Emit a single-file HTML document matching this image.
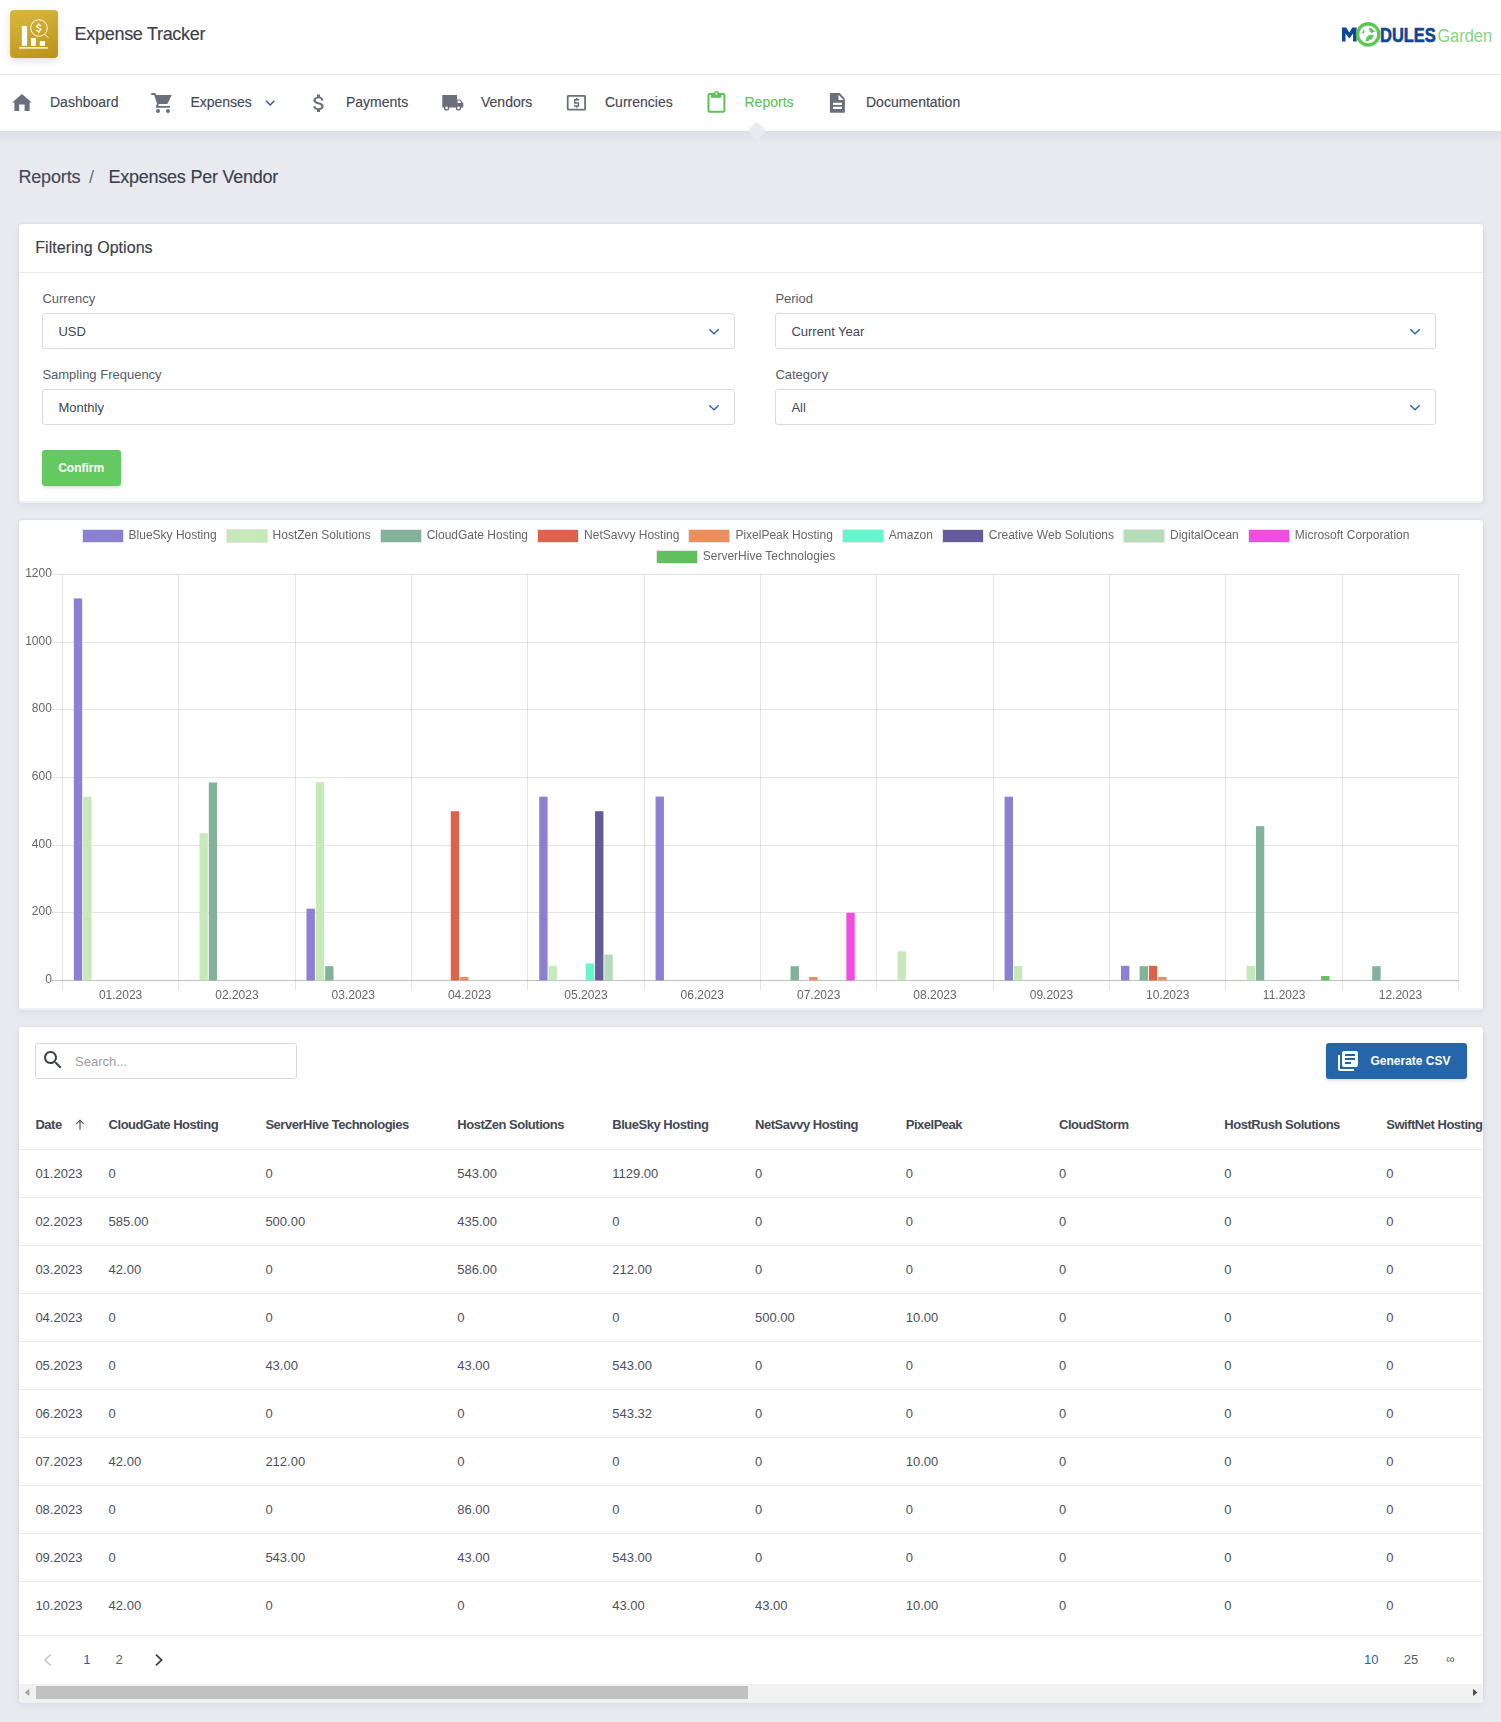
<!DOCTYPE html>
<html><head><meta charset="utf-8"><title>Expense Tracker - Reports</title>
<style>
*{box-sizing:border-box;margin:0;padding:0}
html,body{width:1501px;height:1722px;overflow:hidden}
body{background:#e9eaef;font-family:"Liberation Sans",sans-serif;color:#3d424d;position:relative}
.a{position:absolute;white-space:nowrap;line-height:20px}
.nv{-webkit-text-stroke:0.15px currentColor}
#hdr{position:absolute;left:0;top:0;width:1501px;height:75px;background:#fff;border-bottom:1px solid #e6e7ec}
#nav{position:absolute;left:0;top:75px;width:1501px;height:56px;background:#fff}
.card{position:absolute;left:19px;width:1464px;background:#fff;border-radius:3px;box-shadow:0 2px 0 #eef0f3,0 0 3px rgba(30,35,60,.07),0 4px 9px rgba(30,35,60,.07)}
.sel{position:absolute;height:36px;border:1px solid #d8dbe5;border-radius:3px;background:#fff}
</style></head><body>
<div id="hdr"><div style="position:absolute;left:10px;top:10px;width:48px;height:48px;border-radius:4px;background:linear-gradient(160deg,#d9b83f 0%,#c9a42a 55%,#b8921a 100%);box-shadow:0 3px 8px rgba(0,0,0,.12)">
<svg width="48" height="48" viewBox="10 10 48 48" style="position:absolute;left:0;top:0">
<rect x="21.8" y="26" width="5.3" height="19.8" fill="#fff"/>
<rect x="31" y="38" width="4.9" height="7.8" fill="#fff"/>
<rect x="39.8" y="41" width="5.2" height="4.8" fill="#fff"/>
<rect x="19.1" y="47" width="28.9" height="1.8" fill="#fff" fill-opacity=".75"/>
<circle cx="38.95" cy="28" r="8.3" fill="none" stroke="#fff" stroke-width="1" stroke-opacity=".92"/>
<line x1="44.8" y1="34.4" x2="48.6" y2="37.9" stroke="#fff" stroke-width="1" stroke-opacity=".9"/>
<path d="M41,25.7 L38.7,24.6 L36.3,26.3 L41.2,29.4 L38.9,31.5 L36.3,30.4 M38.7,23.2 V24.8 M38.8,31.3 V33.3" fill="none" stroke="#fff" stroke-width="1.15" stroke-linejoin="round"/>
</svg></div><div class="a nv" style="left:74.6px;top:24px;font-size:18px;color:#3b404b;letter-spacing:-0.3px">Expense Tracker</div>
<svg style="position:absolute;left:1336px;top:18px" width="160" height="34" viewBox="1336 18 160 34">
<path d="M1342,41.6 V27.4 H1346.2 L1349.3,32.4 L1352.4,27.4 H1356.6 V41.6 H1353.1 V33.4 L1349.3,38.4 L1345.5,33.4 V41.6 Z" fill="#0d4795"/>
<circle cx="1368.2" cy="34.4" r="10.6" fill="none" stroke="#5cc656" stroke-width="3.4"/>
<path d="M1362,33.8 l1.2,-3.6 1.1,-1 0.2,3.4 -1,0.6z M1369.2,27.5 l2.5,0.8 1.2,1.6 1.6,0.6 0.3,1.6 -1.8,0.2 -1.4,1 -0.8,-1.6 -1.4,-0.4z M1365.4,41.6 l0.4,-1.8 0.6,-1 -0.2,-1.4 1.2,-0.4 0.2,-1.3 1.6,-0.2 0.8,-1 1.2,0.8 1.4,-0.4 1.2,0.4 -1.4,3 -1.6,1.6 -1.4,-0.6 -0.8,1.8z" fill="#5cc656"/>
<text x="1380" y="41.6" font-family="Liberation Sans" font-weight="bold" font-size="20" fill="#0d4795" stroke="#0d4795" stroke-width="0.6" textLength="55.8" lengthAdjust="spacingAndGlyphs">DULES</text>
<text x="1437.4" y="41.6" font-family="Liberation Sans" font-size="19.2" fill="#86d581" textLength="54.6" lengthAdjust="spacingAndGlyphs" style="font-weight:normal">Garden</text>
</svg></div><div id="nav"></div><svg style="position:absolute;left:0;top:75px" width="1000" height="56" viewBox="0 75 1000 56">
<path d="M19.2,111 v-6.4 h5.4 v6.4 h5 v-8.4 h2.2 L21.9,94 L12.2,102.6 h2.2 v8.4z" fill="#6b6f7b"/>
<g fill="#6b6f7b">
<path d="M155.3,95 L171.8,95 L167.4,103.9 L158,103.9 Z"/>
<path d="M151.3,94 H154.8 L158,103.5 L156.8,106.9 H170" fill="none" stroke="#6b6f7b" stroke-width="1.9"/>
<circle cx="158" cy="111" r="2"/><circle cx="168" cy="111" r="2"/>
</g>
<path d="M266,100.8 l4.2,4.2 4.2,-4.2" fill="none" stroke="#3d5a80" stroke-width="1.5"/>
<path transform="translate(306.8,91.6) scale(1.02,0.975)" d="M11.8 10.9c-2.27-.59-3-1.2-3-2.15 0-1.09 1.01-1.85 2.7-1.85 1.78 0 2.440.85 2.5 2.1h2.21c-.07-1.72-1.12-3.3-3.21-3.81V3h-3v2.16c-1.94.42-3.5 1.68-3.5 3.610 0 2.31 1.91 3.46 4.7 4.13 2.5.6 3 1.48 3 2.41 0 .69-.49 1.79-2.7 1.79-2.06 0-2.87-.92-2.98-2.1h-2.2c.12 2.19 1.76 3.42 3.68 3.83V21h3v-2.15c1.95-.37 3.5-1.5 3.5-3.55 0-2.84-2.43-3.81-4.7-4.4z" fill="#6b6f7b"/>
<g fill="#6b6f7b">
<path d="M442.3,95 H457 V99.4 H460.3 L463.3,103.2 V107.6 H442.3 Z M457.6,100.6 V103.1 H461.6 L459.7,100.6 Z" fill-rule="evenodd"/>
<circle cx="446.6" cy="107.9" r="2.7"/><circle cx="458.5" cy="107.9" r="2.7"/>
</g>
<circle cx="446.6" cy="107.9" r="1.3" fill="#fff"/><circle cx="458.5" cy="107.9" r="1.3" fill="#fff"/>
<rect x="567.7" y="95.9" width="17.4" height="13.8" rx="0.6" fill="none" stroke="#6b6f7b" stroke-width="1.8"/>
<path d="M579.4,99.85 H574.7 V103 H578.4 V106 H573.9 M576.6,98.1 V99.85 M576.6,106 V107.8" fill="none" stroke="#6b6f7b" stroke-width="1.5"/>
<rect x="708.5" y="94" width="15.9" height="17.7" rx="1" fill="none" stroke="#5cc457" stroke-width="2"/>
<rect x="711" y="93" width="10.3" height="4.8" fill="#5cc457"/>
<circle cx="716.3" cy="93.5" r="2.6" fill="#5cc457"/><circle cx="716.3" cy="93.6" r="1.05" fill="#fff"/>
<path d="M830.9,93 H839.7 L844.9,98.7 V111.7 Q844.9,112.7 843.9,112.7 H830.9 Q829.9,112.7 829.9,111.7 V94 Q829.9,93 830.9,93 Z M838.5,94.8 V100 H843.7 Z M833,102.8 V104.9 H842 V102.8 Z M833,106.8 V109 H842 V106.8 Z" fill="#6b6f7b" fill-rule="evenodd"/>
</svg><div class="a nv" style="left:50px;top:92px;font-size:14px;color:#444955;">Dashboard</div>
<div class="a nv" style="left:190.4px;top:92px;font-size:14px;color:#444955;">Expenses</div>
<div class="a nv" style="left:346px;top:92px;font-size:14px;color:#444955;">Payments</div>
<div class="a nv" style="left:481px;top:92px;font-size:14px;color:#444955;">Vendors</div>
<div class="a nv" style="left:605px;top:92px;font-size:14px;color:#444955;">Currencies</div>
<div class="a nv" style="left:866px;top:92px;font-size:14px;color:#444955;">Documentation</div>
<div class="a nv" style="left:744.5px;top:92px;font-size:14px;color:#5cc457;">Reports</div>
<div style="position:absolute;left:0;top:131px;width:1501px;height:12px;background:linear-gradient(rgba(30,35,60,.055),rgba(30,35,60,0))"></div><div style="position:absolute;left:750px;top:125.3px;width:13.4px;height:13.4px;transform:rotate(45deg);border-top-left-radius:2px;background:#e9eaef;box-shadow:-1px -1px 2px rgba(0,0,0,.05)"></div><div class="a nv" style="left:18.4px;top:167px;font-size:18px;color:#434854;letter-spacing:-0.15px">Reports</div>
<div class="a" style="left:89px;top:167px;font-size:18px;color:#6b707c;">/</div>
<div class="a nv" style="left:108.5px;top:167px;font-size:18px;color:#3b404b;letter-spacing:-0.24px">Expenses Per Vendor</div>
<div class="card" style="top:224px;height:277px"></div><div style="position:absolute;left:19px;top:272px;width:1464px;height:1px;background:#e8e9ef"></div><div class="a nv" style="left:35.3px;top:238px;font-size:16px;color:#3b404b;letter-spacing:0.05px">Filtering Options</div>
<div class="a" style="left:42.4px;top:289px;font-size:13px;color:#575c68;">Currency</div>
<div class="a" style="left:775.4px;top:289px;font-size:13px;color:#575c68;">Period</div>
<div class="sel" style="left:42px;top:313px;width:693px"></div><div class="a" style="left:58.4px;top:322px;font-size:13px;color:#424753;">USD</div>
<svg style="position:absolute;left:708px;top:328px" width="12" height="8" viewBox="0 0 12 8"><path d="M1.3,1.3 L6,5.8 L10.7,1.3" fill="none" stroke="#2466b0" stroke-width="1.35"/></svg>
<div class="sel" style="left:775px;top:313px;width:661px"></div><div class="a" style="left:791.4px;top:322px;font-size:13px;color:#424753;">Current Year</div>
<svg style="position:absolute;left:1409px;top:328px" width="12" height="8" viewBox="0 0 12 8"><path d="M1.3,1.3 L6,5.8 L10.7,1.3" fill="none" stroke="#2466b0" stroke-width="1.35"/></svg>
<div class="a" style="left:42.4px;top:365px;font-size:13px;color:#575c68;">Sampling Frequency</div>
<div class="a" style="left:775.4px;top:365px;font-size:13px;color:#575c68;">Category</div>
<div class="sel" style="left:42px;top:389px;width:693px"></div><div class="a" style="left:58.4px;top:398px;font-size:13px;color:#424753;">Monthly</div>
<svg style="position:absolute;left:708px;top:404px" width="12" height="8" viewBox="0 0 12 8"><path d="M1.3,1.3 L6,5.8 L10.7,1.3" fill="none" stroke="#2466b0" stroke-width="1.35"/></svg>
<div class="sel" style="left:775px;top:389px;width:661px"></div><div class="a" style="left:791.4px;top:398px;font-size:13px;color:#424753;">All</div>
<svg style="position:absolute;left:1409px;top:404px" width="12" height="8" viewBox="0 0 12 8"><path d="M1.3,1.3 L6,5.8 L10.7,1.3" fill="none" stroke="#2466b0" stroke-width="1.35"/></svg>
<div style="position:absolute;left:42px;top:450px;width:79px;height:36px;border-radius:3px;background:#64c961;box-shadow:0 2px 3px rgba(0,0,0,.12)"></div><div class="a" style="left:58.2px;top:458px;font-size:12px;color:#fff;font-weight:bold;-webkit-text-stroke:0;">Confirm</div>
<div class="card" style="top:520px;height:488px"></div><svg style="position:absolute;left:0;top:519px;will-change:transform" width="1501" height="489" viewBox="0 519 1501 489">
<line x1="51.4" y1="980.5" x2="1458.6" y2="980.5" stroke="rgba(0,0,0,0.25)" stroke-width="1"/>
<text x="51.9" y="982.9" font-family="Liberation Sans" font-size="12" fill="#666" text-anchor="end">0</text>
<line x1="51.4" y1="912.5" x2="1458.6" y2="912.5" stroke="rgba(0,0,0,0.1)" stroke-width="1"/>
<text x="51.9" y="914.9" font-family="Liberation Sans" font-size="12" fill="#666" text-anchor="end">200</text>
<line x1="51.4" y1="845.5" x2="1458.6" y2="845.5" stroke="rgba(0,0,0,0.1)" stroke-width="1"/>
<text x="51.9" y="847.9" font-family="Liberation Sans" font-size="12" fill="#666" text-anchor="end">400</text>
<line x1="51.4" y1="777.5" x2="1458.6" y2="777.5" stroke="rgba(0,0,0,0.1)" stroke-width="1"/>
<text x="51.9" y="779.9" font-family="Liberation Sans" font-size="12" fill="#666" text-anchor="end">600</text>
<line x1="51.4" y1="709.5" x2="1458.6" y2="709.5" stroke="rgba(0,0,0,0.1)" stroke-width="1"/>
<text x="51.9" y="711.9" font-family="Liberation Sans" font-size="12" fill="#666" text-anchor="end">800</text>
<line x1="51.4" y1="642.5" x2="1458.6" y2="642.5" stroke="rgba(0,0,0,0.1)" stroke-width="1"/>
<text x="51.9" y="644.9" font-family="Liberation Sans" font-size="12" fill="#666" text-anchor="end">1000</text>
<line x1="51.4" y1="574.5" x2="1458.6" y2="574.5" stroke="rgba(0,0,0,0.1)" stroke-width="1"/>
<text x="51.9" y="576.9" font-family="Liberation Sans" font-size="12" fill="#666" text-anchor="end">1200</text>
<line x1="62.5" y1="574" x2="62.5" y2="990.4" stroke="rgba(0,0,0,0.1)" stroke-width="1"/>
<line x1="178.5" y1="574" x2="178.5" y2="990.4" stroke="rgba(0,0,0,0.1)" stroke-width="1"/>
<line x1="295.5" y1="574" x2="295.5" y2="990.4" stroke="rgba(0,0,0,0.1)" stroke-width="1"/>
<line x1="411.5" y1="574" x2="411.5" y2="990.4" stroke="rgba(0,0,0,0.1)" stroke-width="1"/>
<line x1="527.5" y1="574" x2="527.5" y2="990.4" stroke="rgba(0,0,0,0.1)" stroke-width="1"/>
<line x1="644.5" y1="574" x2="644.5" y2="990.4" stroke="rgba(0,0,0,0.1)" stroke-width="1"/>
<line x1="760.5" y1="574" x2="760.5" y2="990.4" stroke="rgba(0,0,0,0.1)" stroke-width="1"/>
<line x1="876.5" y1="574" x2="876.5" y2="990.4" stroke="rgba(0,0,0,0.1)" stroke-width="1"/>
<line x1="993.5" y1="574" x2="993.5" y2="990.4" stroke="rgba(0,0,0,0.1)" stroke-width="1"/>
<line x1="1109.5" y1="574" x2="1109.5" y2="990.4" stroke="rgba(0,0,0,0.1)" stroke-width="1"/>
<line x1="1225.5" y1="574" x2="1225.5" y2="990.4" stroke="rgba(0,0,0,0.1)" stroke-width="1"/>
<line x1="1342.5" y1="574" x2="1342.5" y2="990.4" stroke="rgba(0,0,0,0.1)" stroke-width="1"/>
<line x1="1458.5" y1="574" x2="1458.5" y2="990.4" stroke="rgba(0,0,0,0.1)" stroke-width="1"/>
<text x="120.6" y="998.8" font-family="Liberation Sans" font-size="12" fill="#666" text-anchor="middle">01.2023</text>
<text x="236.9" y="998.8" font-family="Liberation Sans" font-size="12" fill="#666" text-anchor="middle">02.2023</text>
<text x="353.3" y="998.8" font-family="Liberation Sans" font-size="12" fill="#666" text-anchor="middle">03.2023</text>
<text x="469.6" y="998.8" font-family="Liberation Sans" font-size="12" fill="#666" text-anchor="middle">04.2023</text>
<text x="586.0" y="998.8" font-family="Liberation Sans" font-size="12" fill="#666" text-anchor="middle">05.2023</text>
<text x="702.3" y="998.8" font-family="Liberation Sans" font-size="12" fill="#666" text-anchor="middle">06.2023</text>
<text x="818.7" y="998.8" font-family="Liberation Sans" font-size="12" fill="#666" text-anchor="middle">07.2023</text>
<text x="935.0" y="998.8" font-family="Liberation Sans" font-size="12" fill="#666" text-anchor="middle">08.2023</text>
<text x="1051.4" y="998.8" font-family="Liberation Sans" font-size="12" fill="#666" text-anchor="middle">09.2023</text>
<text x="1167.7" y="998.8" font-family="Liberation Sans" font-size="12" fill="#666" text-anchor="middle">10.2023</text>
<text x="1284.1" y="998.8" font-family="Liberation Sans" font-size="12" fill="#666" text-anchor="middle">11.2023</text>
<text x="1400.4" y="998.8" font-family="Liberation Sans" font-size="12" fill="#666" text-anchor="middle">12.2023</text>
<rect x="73.80" y="598.42" width="8.38" height="381.98" fill="#8b80d1"/>
<rect x="83.11" y="796.68" width="8.38" height="183.72" fill="#c7e9b9"/>
<rect x="199.46" y="833.23" width="8.38" height="147.17" fill="#c7e9b9"/>
<rect x="208.77" y="782.48" width="8.38" height="197.92" fill="#83b29b"/>
<rect x="306.50" y="908.67" width="8.38" height="71.73" fill="#8b80d1"/>
<rect x="315.81" y="782.14" width="8.38" height="198.26" fill="#c7e9b9"/>
<rect x="325.12" y="966.19" width="8.38" height="14.21" fill="#83b29b"/>
<rect x="450.77" y="811.23" width="8.38" height="169.17" fill="#de614c"/>
<rect x="460.08" y="977.02" width="8.38" height="3.38" fill="#ec8e5c"/>
<rect x="539.20" y="796.68" width="8.38" height="183.72" fill="#8b80d1"/>
<rect x="548.51" y="965.85" width="8.38" height="14.55" fill="#c7e9b9"/>
<rect x="585.74" y="963.48" width="8.38" height="16.92" fill="#66f5cd"/>
<rect x="595.05" y="811.23" width="8.38" height="169.17" fill="#655a9a"/>
<rect x="604.36" y="954.69" width="8.38" height="25.71" fill="#b5dbb8"/>
<rect x="655.55" y="796.58" width="8.38" height="183.82" fill="#8b80d1"/>
<rect x="790.52" y="966.19" width="8.38" height="14.21" fill="#83b29b"/>
<rect x="809.13" y="977.02" width="8.38" height="3.38" fill="#ec8e5c"/>
<rect x="846.36" y="912.73" width="8.38" height="67.67" fill="#ef4ce1"/>
<rect x="897.56" y="951.30" width="8.38" height="29.10" fill="#c7e9b9"/>
<rect x="1004.60" y="796.68" width="8.38" height="183.72" fill="#8b80d1"/>
<rect x="1013.91" y="965.85" width="8.38" height="14.55" fill="#c7e9b9"/>
<rect x="1120.95" y="965.85" width="8.38" height="14.55" fill="#8b80d1"/>
<rect x="1139.57" y="966.19" width="8.38" height="14.21" fill="#83b29b"/>
<rect x="1148.87" y="965.85" width="8.38" height="14.55" fill="#de614c"/>
<rect x="1158.18" y="977.02" width="8.38" height="3.38" fill="#ec8e5c"/>
<rect x="1246.61" y="965.85" width="8.38" height="14.55" fill="#c7e9b9"/>
<rect x="1255.92" y="826.12" width="8.38" height="154.28" fill="#83b29b"/>
<rect x="1321.07" y="976.00" width="8.38" height="4.40" fill="#5fc05c"/>
<rect x="1372.27" y="966.19" width="8.38" height="14.21" fill="#83b29b"/>
</svg><div style="position:absolute;left:19px;top:528px;width:1464px;height:16px;padding-right:10px;will-change:transform;display:flex;justify-content:center;font-size:12px;line-height:16px;color:#666"><div style="display:flex;align-items:center;margin:0 5px"><span style="display:inline-block;width:40px;height:12px;outline:1px solid rgba(0,0,0,0.1);background:#8b80d1;margin-right:6px"></span><span style="position:relative;top:-1px">BlueSky Hosting</span></div><div style="display:flex;align-items:center;margin:0 5px"><span style="display:inline-block;width:40px;height:12px;outline:1px solid rgba(0,0,0,0.1);background:#c7e9b9;margin-right:6px"></span><span style="position:relative;top:-1px">HostZen Solutions</span></div><div style="display:flex;align-items:center;margin:0 5px"><span style="display:inline-block;width:40px;height:12px;outline:1px solid rgba(0,0,0,0.1);background:#83b29b;margin-right:6px"></span><span style="position:relative;top:-1px">CloudGate Hosting</span></div><div style="display:flex;align-items:center;margin:0 5px"><span style="display:inline-block;width:40px;height:12px;outline:1px solid rgba(0,0,0,0.1);background:#de614c;margin-right:6px"></span><span style="position:relative;top:-1px">NetSavvy Hosting</span></div><div style="display:flex;align-items:center;margin:0 5px"><span style="display:inline-block;width:40px;height:12px;outline:1px solid rgba(0,0,0,0.1);background:#ec8e5c;margin-right:6px"></span><span style="position:relative;top:-1px">PixelPeak Hosting</span></div><div style="display:flex;align-items:center;margin:0 5px"><span style="display:inline-block;width:40px;height:12px;outline:1px solid rgba(0,0,0,0.1);background:#66f5cd;margin-right:6px"></span><span style="position:relative;top:-1px">Amazon</span></div><div style="display:flex;align-items:center;margin:0 5px"><span style="display:inline-block;width:40px;height:12px;outline:1px solid rgba(0,0,0,0.1);background:#655a9a;margin-right:6px"></span><span style="position:relative;top:-1px">Creative Web Solutions</span></div><div style="display:flex;align-items:center;margin:0 5px"><span style="display:inline-block;width:40px;height:12px;outline:1px solid rgba(0,0,0,0.1);background:#b5dbb8;margin-right:6px"></span><span style="position:relative;top:-1px">DigitalOcean</span></div><div style="display:flex;align-items:center;margin:0 5px"><span style="display:inline-block;width:40px;height:12px;outline:1px solid rgba(0,0,0,0.1);background:#ef4ce1;margin-right:6px"></span><span style="position:relative;top:-1px">Microsoft Corporation</span></div></div>
<div style="position:absolute;left:19px;top:549px;width:1464px;height:16px;padding-right:10px;will-change:transform;display:flex;justify-content:center;font-size:12px;line-height:16px;color:#666"><div style="display:flex;align-items:center;margin:0 5px"><span style="display:inline-block;width:40px;height:12px;outline:1px solid rgba(0,0,0,0.1);background:#5fc05c;margin-right:6px"></span><span style="position:relative;top:-1px">ServerHive Technologies</span></div></div>
<div class="card" style="top:1027px;height:674px;overflow:hidden"></div><div style="position:absolute;left:35px;top:1043px;width:262px;height:36px;border:1px solid #d5d8e3;border-radius:3px;background:#fff"></div><svg style="position:absolute;left:41px;top:1048px" width="24" height="24" viewBox="0 0 24 24"><path d="M15.5 14h-.79l-.28-.27C15.41 12.59 16 11.11 16 9.5 16 5.91 13.09 3 9.5 3S3 5.91 3 9.5 5.91 16 9.5 16c1.61 0 3.09-.59 4.23-1.57l.27.28v.79l5 4.99L20.49 19l-4.99-5zm-6 0C7.01 14 5 11.99 5 9.5S7.01 5 9.5 5 14 7.01 14 9.5 11.99 14 9.5 14z" fill="#3d424d"/></svg><div class="a" style="left:75px;top:1052px;font-size:13px;color:#9d9d9d;">Search...</div>
<div style="position:absolute;left:1326px;top:1043px;width:141px;height:36px;border-radius:3px;background:#2566ab;box-shadow:0 2px 3px rgba(0,0,0,.12)"></div><svg style="position:absolute;left:1336px;top:1049px" width="24" height="24" viewBox="0 0 24 24"><path d="M4 6H2v14c0 1.1.9 2 2 2h14v-2H4V6zm16-4H8c-1.1 0-2 .9-2 2v12c0 1.1.9 2 2 2h12c1.1 0 2-.9 2-2V4c0-1.1-.9-2-2-2zm-1 9H9V9h10v2zm-4 4H9v-2h6v2zm4-8H9V5h10v2z" fill="#fff"/></svg><div class="a" style="left:1370.5px;top:1051px;font-size:12px;color:#fff;font-weight:bold;-webkit-text-stroke:0;">Generate CSV</div>
<div style="position:absolute;left:19px;top:1080px;width:1464px;height:560px;overflow:hidden"><div class="a" style="left:16.4px;top:35px;font-size:13px;color:#434854;font-weight:bold;-webkit-text-stroke:0;letter-spacing:-0.48px">Date</div>
<div class="a" style="left:89.6px;top:35px;font-size:13px;color:#434854;font-weight:bold;-webkit-text-stroke:0;letter-spacing:-0.48px">CloudGate Hosting</div>
<div class="a" style="left:246.4px;top:35px;font-size:13px;color:#434854;font-weight:bold;-webkit-text-stroke:0;letter-spacing:-0.48px">ServerHive Technologies</div>
<div class="a" style="left:438.3px;top:35px;font-size:13px;color:#434854;font-weight:bold;-webkit-text-stroke:0;letter-spacing:-0.48px">HostZen Solutions</div>
<div class="a" style="left:593.3px;top:35px;font-size:13px;color:#434854;font-weight:bold;-webkit-text-stroke:0;letter-spacing:-0.48px">BlueSky Hosting</div>
<div class="a" style="left:736px;top:35px;font-size:13px;color:#434854;font-weight:bold;-webkit-text-stroke:0;letter-spacing:-0.48px">NetSavvy Hosting</div>
<div class="a" style="left:886.7px;top:35px;font-size:13px;color:#434854;font-weight:bold;-webkit-text-stroke:0;letter-spacing:-0.48px">PixelPeak</div>
<div class="a" style="left:1040px;top:35px;font-size:13px;color:#434854;font-weight:bold;-webkit-text-stroke:0;letter-spacing:-0.48px">CloudStorm</div>
<div class="a" style="left:1205.3px;top:35px;font-size:13px;color:#434854;font-weight:bold;-webkit-text-stroke:0;letter-spacing:-0.48px">HostRush Solutions</div>
<div class="a" style="left:1367.2px;top:35px;font-size:13px;color:#434854;font-weight:bold;-webkit-text-stroke:0;letter-spacing:-0.48px">SwiftNet Hosting</div>
<svg style="position:absolute;left:54px;top:38px" width="14" height="14" viewBox="0 0 14 14"><path d="M7,2.2 V11.8 M3.4,5.8 L7,2.2 L10.6,5.8" fill="none" stroke="#3d424d" stroke-width="1.05"/></svg><div style="position:absolute;left:0;top:69px;width:1464px;height:1px;background:#e9eaf0"></div><div style="position:absolute;left:0;top:117px;width:1464px;height:1px;background:#e9eaf0"></div><div style="position:absolute;left:0;top:165px;width:1464px;height:1px;background:#e9eaf0"></div><div style="position:absolute;left:0;top:213px;width:1464px;height:1px;background:#e9eaf0"></div><div style="position:absolute;left:0;top:261px;width:1464px;height:1px;background:#e9eaf0"></div><div style="position:absolute;left:0;top:309px;width:1464px;height:1px;background:#e9eaf0"></div><div style="position:absolute;left:0;top:357px;width:1464px;height:1px;background:#e9eaf0"></div><div style="position:absolute;left:0;top:405px;width:1464px;height:1px;background:#e9eaf0"></div><div style="position:absolute;left:0;top:453px;width:1464px;height:1px;background:#e9eaf0"></div><div style="position:absolute;left:0;top:501px;width:1464px;height:1px;background:#e9eaf0"></div><div style="position:absolute;left:0;top:555px;width:1464px;height:1px;background:#e9eaf0"></div><div class="a" style="left:16.4px;top:84px;font-size:13px;color:#4b505c;">01.2023</div>
<div class="a" style="left:89.6px;top:84px;font-size:13px;color:#4b505c;">0</div>
<div class="a" style="left:246.4px;top:84px;font-size:13px;color:#4b505c;">0</div>
<div class="a" style="left:438.3px;top:84px;font-size:13px;color:#4b505c;">543.00</div>
<div class="a" style="left:593.3px;top:84px;font-size:13px;color:#4b505c;">1129.00</div>
<div class="a" style="left:736px;top:84px;font-size:13px;color:#4b505c;">0</div>
<div class="a" style="left:886.7px;top:84px;font-size:13px;color:#4b505c;">0</div>
<div class="a" style="left:1040px;top:84px;font-size:13px;color:#4b505c;">0</div>
<div class="a" style="left:1205.3px;top:84px;font-size:13px;color:#4b505c;">0</div>
<div class="a" style="left:1367.2px;top:84px;font-size:13px;color:#4b505c;">0</div>
<div class="a" style="left:16.4px;top:132px;font-size:13px;color:#4b505c;">02.2023</div>
<div class="a" style="left:89.6px;top:132px;font-size:13px;color:#4b505c;">585.00</div>
<div class="a" style="left:246.4px;top:132px;font-size:13px;color:#4b505c;">500.00</div>
<div class="a" style="left:438.3px;top:132px;font-size:13px;color:#4b505c;">435.00</div>
<div class="a" style="left:593.3px;top:132px;font-size:13px;color:#4b505c;">0</div>
<div class="a" style="left:736px;top:132px;font-size:13px;color:#4b505c;">0</div>
<div class="a" style="left:886.7px;top:132px;font-size:13px;color:#4b505c;">0</div>
<div class="a" style="left:1040px;top:132px;font-size:13px;color:#4b505c;">0</div>
<div class="a" style="left:1205.3px;top:132px;font-size:13px;color:#4b505c;">0</div>
<div class="a" style="left:1367.2px;top:132px;font-size:13px;color:#4b505c;">0</div>
<div class="a" style="left:16.4px;top:180px;font-size:13px;color:#4b505c;">03.2023</div>
<div class="a" style="left:89.6px;top:180px;font-size:13px;color:#4b505c;">42.00</div>
<div class="a" style="left:246.4px;top:180px;font-size:13px;color:#4b505c;">0</div>
<div class="a" style="left:438.3px;top:180px;font-size:13px;color:#4b505c;">586.00</div>
<div class="a" style="left:593.3px;top:180px;font-size:13px;color:#4b505c;">212.00</div>
<div class="a" style="left:736px;top:180px;font-size:13px;color:#4b505c;">0</div>
<div class="a" style="left:886.7px;top:180px;font-size:13px;color:#4b505c;">0</div>
<div class="a" style="left:1040px;top:180px;font-size:13px;color:#4b505c;">0</div>
<div class="a" style="left:1205.3px;top:180px;font-size:13px;color:#4b505c;">0</div>
<div class="a" style="left:1367.2px;top:180px;font-size:13px;color:#4b505c;">0</div>
<div class="a" style="left:16.4px;top:228px;font-size:13px;color:#4b505c;">04.2023</div>
<div class="a" style="left:89.6px;top:228px;font-size:13px;color:#4b505c;">0</div>
<div class="a" style="left:246.4px;top:228px;font-size:13px;color:#4b505c;">0</div>
<div class="a" style="left:438.3px;top:228px;font-size:13px;color:#4b505c;">0</div>
<div class="a" style="left:593.3px;top:228px;font-size:13px;color:#4b505c;">0</div>
<div class="a" style="left:736px;top:228px;font-size:13px;color:#4b505c;">500.00</div>
<div class="a" style="left:886.7px;top:228px;font-size:13px;color:#4b505c;">10.00</div>
<div class="a" style="left:1040px;top:228px;font-size:13px;color:#4b505c;">0</div>
<div class="a" style="left:1205.3px;top:228px;font-size:13px;color:#4b505c;">0</div>
<div class="a" style="left:1367.2px;top:228px;font-size:13px;color:#4b505c;">0</div>
<div class="a" style="left:16.4px;top:276px;font-size:13px;color:#4b505c;">05.2023</div>
<div class="a" style="left:89.6px;top:276px;font-size:13px;color:#4b505c;">0</div>
<div class="a" style="left:246.4px;top:276px;font-size:13px;color:#4b505c;">43.00</div>
<div class="a" style="left:438.3px;top:276px;font-size:13px;color:#4b505c;">43.00</div>
<div class="a" style="left:593.3px;top:276px;font-size:13px;color:#4b505c;">543.00</div>
<div class="a" style="left:736px;top:276px;font-size:13px;color:#4b505c;">0</div>
<div class="a" style="left:886.7px;top:276px;font-size:13px;color:#4b505c;">0</div>
<div class="a" style="left:1040px;top:276px;font-size:13px;color:#4b505c;">0</div>
<div class="a" style="left:1205.3px;top:276px;font-size:13px;color:#4b505c;">0</div>
<div class="a" style="left:1367.2px;top:276px;font-size:13px;color:#4b505c;">0</div>
<div class="a" style="left:16.4px;top:324px;font-size:13px;color:#4b505c;">06.2023</div>
<div class="a" style="left:89.6px;top:324px;font-size:13px;color:#4b505c;">0</div>
<div class="a" style="left:246.4px;top:324px;font-size:13px;color:#4b505c;">0</div>
<div class="a" style="left:438.3px;top:324px;font-size:13px;color:#4b505c;">0</div>
<div class="a" style="left:593.3px;top:324px;font-size:13px;color:#4b505c;">543.32</div>
<div class="a" style="left:736px;top:324px;font-size:13px;color:#4b505c;">0</div>
<div class="a" style="left:886.7px;top:324px;font-size:13px;color:#4b505c;">0</div>
<div class="a" style="left:1040px;top:324px;font-size:13px;color:#4b505c;">0</div>
<div class="a" style="left:1205.3px;top:324px;font-size:13px;color:#4b505c;">0</div>
<div class="a" style="left:1367.2px;top:324px;font-size:13px;color:#4b505c;">0</div>
<div class="a" style="left:16.4px;top:372px;font-size:13px;color:#4b505c;">07.2023</div>
<div class="a" style="left:89.6px;top:372px;font-size:13px;color:#4b505c;">42.00</div>
<div class="a" style="left:246.4px;top:372px;font-size:13px;color:#4b505c;">212.00</div>
<div class="a" style="left:438.3px;top:372px;font-size:13px;color:#4b505c;">0</div>
<div class="a" style="left:593.3px;top:372px;font-size:13px;color:#4b505c;">0</div>
<div class="a" style="left:736px;top:372px;font-size:13px;color:#4b505c;">0</div>
<div class="a" style="left:886.7px;top:372px;font-size:13px;color:#4b505c;">10.00</div>
<div class="a" style="left:1040px;top:372px;font-size:13px;color:#4b505c;">0</div>
<div class="a" style="left:1205.3px;top:372px;font-size:13px;color:#4b505c;">0</div>
<div class="a" style="left:1367.2px;top:372px;font-size:13px;color:#4b505c;">0</div>
<div class="a" style="left:16.4px;top:420px;font-size:13px;color:#4b505c;">08.2023</div>
<div class="a" style="left:89.6px;top:420px;font-size:13px;color:#4b505c;">0</div>
<div class="a" style="left:246.4px;top:420px;font-size:13px;color:#4b505c;">0</div>
<div class="a" style="left:438.3px;top:420px;font-size:13px;color:#4b505c;">86.00</div>
<div class="a" style="left:593.3px;top:420px;font-size:13px;color:#4b505c;">0</div>
<div class="a" style="left:736px;top:420px;font-size:13px;color:#4b505c;">0</div>
<div class="a" style="left:886.7px;top:420px;font-size:13px;color:#4b505c;">0</div>
<div class="a" style="left:1040px;top:420px;font-size:13px;color:#4b505c;">0</div>
<div class="a" style="left:1205.3px;top:420px;font-size:13px;color:#4b505c;">0</div>
<div class="a" style="left:1367.2px;top:420px;font-size:13px;color:#4b505c;">0</div>
<div class="a" style="left:16.4px;top:468px;font-size:13px;color:#4b505c;">09.2023</div>
<div class="a" style="left:89.6px;top:468px;font-size:13px;color:#4b505c;">0</div>
<div class="a" style="left:246.4px;top:468px;font-size:13px;color:#4b505c;">543.00</div>
<div class="a" style="left:438.3px;top:468px;font-size:13px;color:#4b505c;">43.00</div>
<div class="a" style="left:593.3px;top:468px;font-size:13px;color:#4b505c;">543.00</div>
<div class="a" style="left:736px;top:468px;font-size:13px;color:#4b505c;">0</div>
<div class="a" style="left:886.7px;top:468px;font-size:13px;color:#4b505c;">0</div>
<div class="a" style="left:1040px;top:468px;font-size:13px;color:#4b505c;">0</div>
<div class="a" style="left:1205.3px;top:468px;font-size:13px;color:#4b505c;">0</div>
<div class="a" style="left:1367.2px;top:468px;font-size:13px;color:#4b505c;">0</div>
<div class="a" style="left:16.4px;top:516px;font-size:13px;color:#4b505c;">10.2023</div>
<div class="a" style="left:89.6px;top:516px;font-size:13px;color:#4b505c;">42.00</div>
<div class="a" style="left:246.4px;top:516px;font-size:13px;color:#4b505c;">0</div>
<div class="a" style="left:438.3px;top:516px;font-size:13px;color:#4b505c;">0</div>
<div class="a" style="left:593.3px;top:516px;font-size:13px;color:#4b505c;">43.00</div>
<div class="a" style="left:736px;top:516px;font-size:13px;color:#4b505c;">43.00</div>
<div class="a" style="left:886.7px;top:516px;font-size:13px;color:#4b505c;">10.00</div>
<div class="a" style="left:1040px;top:516px;font-size:13px;color:#4b505c;">0</div>
<div class="a" style="left:1205.3px;top:516px;font-size:13px;color:#4b505c;">0</div>
<div class="a" style="left:1367.2px;top:516px;font-size:13px;color:#4b505c;">0</div>
</div><svg style="position:absolute;left:40px;top:1650px" width="130" height="20" viewBox="40 1650 130 20"><path d="M50.6,1654.6 L45,1660 L50.6,1665.4" fill="none" stroke="#c3c5cb" stroke-width="1.5"/><path d="M156,1654.6 L161.6,1660 L156,1665.4" fill="none" stroke="#3d424d" stroke-width="1.8"/></svg><div class="a" style="left:83.2px;top:1650px;font-size:13px;color:#2a64a8;">1</div>
<div class="a" style="left:115.4px;top:1650px;font-size:13px;color:#5a5f6b;">2</div>
<div class="a" style="left:1364px;top:1650px;font-size:13px;color:#2a64a8;">10</div>
<div class="a" style="left:1403.8px;top:1650px;font-size:13px;color:#5a5f6b;">25</div>
<div class="a" style="left:1446.2px;top:1649px;font-size:13px;color:#5a5f6b;font-size:12px">&infin;</div>
<div style="position:absolute;left:19px;top:1684px;width:1464px;height:17px;background:#f1f1f1;border-radius:0 0 3px 3px"></div><div style="position:absolute;left:36px;top:1686px;width:712px;height:13px;background:#c1c1c1"></div><svg style="position:absolute;left:20px;top:1684px" width="1460" height="17" viewBox="20 1684 1460 17"><path d="M29.3,1688.8 L24.8,1692.4 L29.3,1696Z" fill="#a3a3a3"/><path d="M1473,1688.8 L1477.5,1692.4 L1473,1696Z" fill="#505050"/></svg></body></html>
